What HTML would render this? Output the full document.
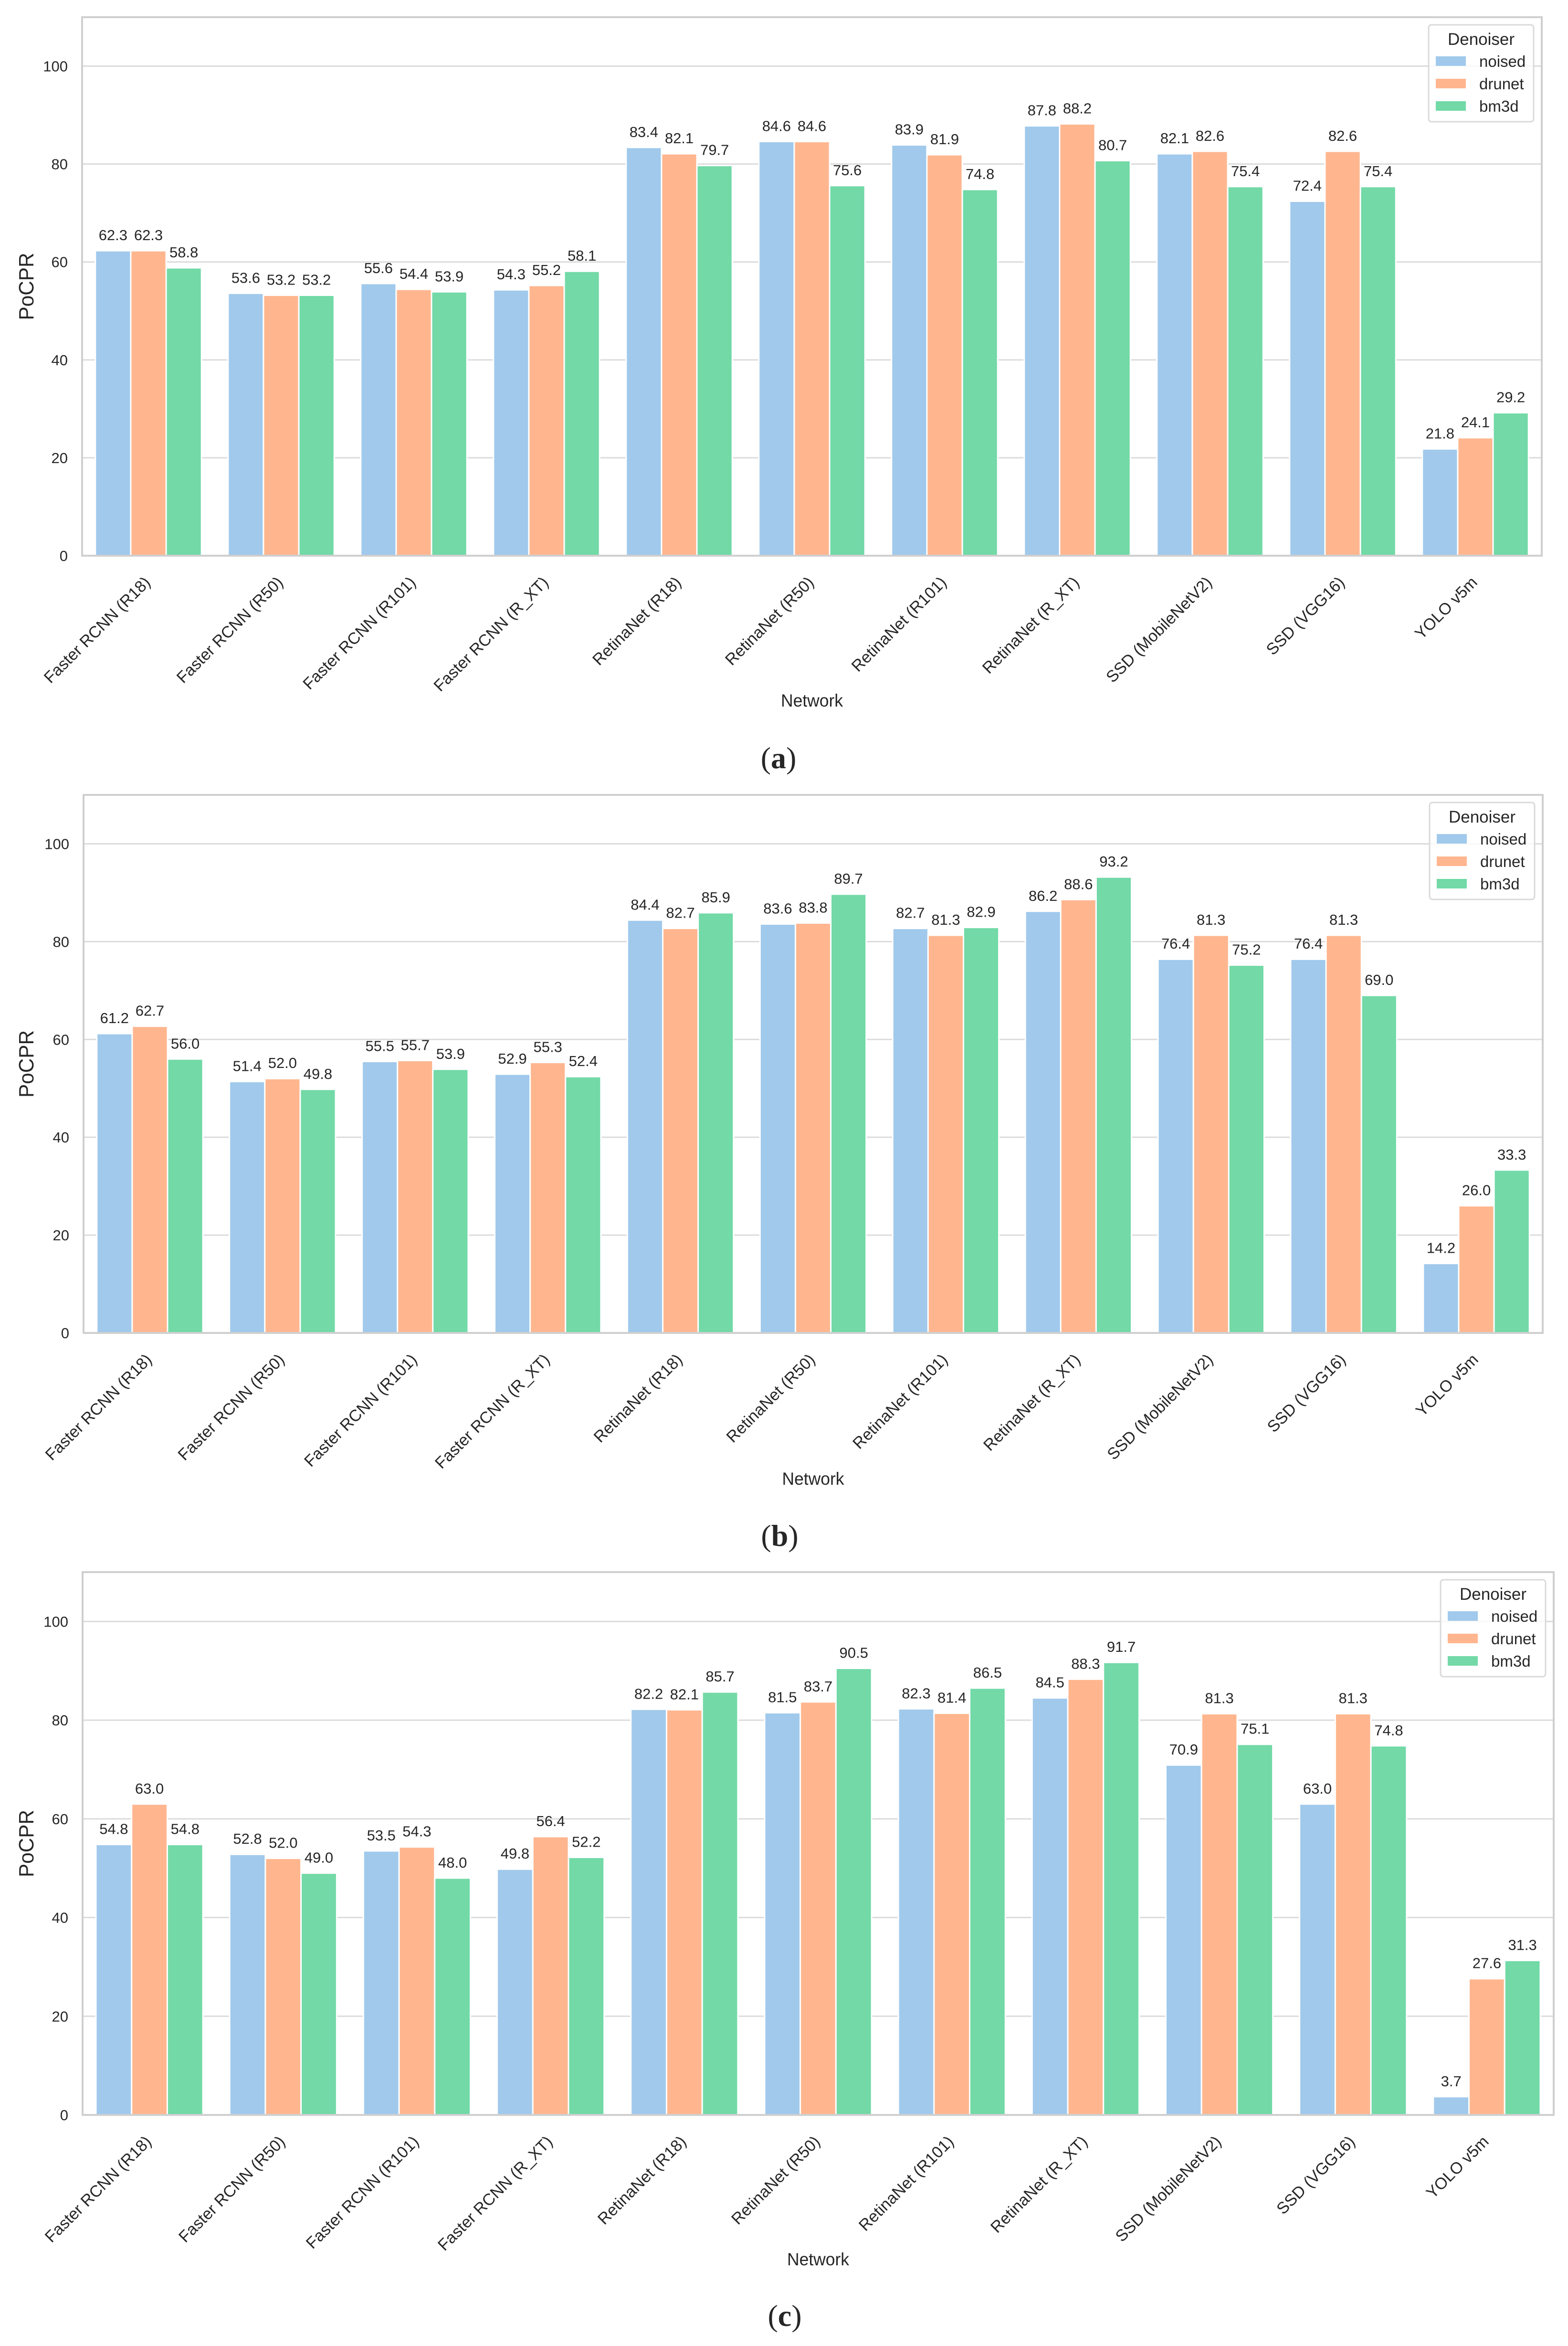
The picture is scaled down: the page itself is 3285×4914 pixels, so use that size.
<!DOCTYPE html>
<html><head><meta charset="utf-8"><style>
html,body{margin:0;padding:0;background:#fff;}
svg{display:block;}
text{font-family:"Liberation Sans",sans-serif;fill:#262626;}
</style></head><body>
<svg id="fig" width="3285" height="4914" viewBox="0 0 3285 4914" xmlns="http://www.w3.org/2000/svg"></svg>
<script>
const categories = ["Faster RCNN (R18)","Faster RCNN (R50)","Faster RCNN (R101)","Faster RCNN (R_XT)","RetinaNet (R18)","RetinaNet (R50)","RetinaNet (R101)","RetinaNet (R_XT)","SSD (MobileNetV2)","SSD (VGG16)","YOLO v5m"];
const seriesNames = ["noised","drunet","bm3d"];
const yTicks = [0,20,40,60,80,100];
const aNoised = [62.3,53.6,55.6,54.3,83.4,84.6,83.9,87.8,82.1,72.4,21.8];
const aDrunet = [62.3,53.2,54.4,55.2,82.1,84.6,81.9,88.2,82.6,82.6,24.1];
const aBm3d   = [58.8,53.2,53.9,58.1,79.7,75.6,74.8,80.7,75.4,75.4,29.2];
const bNoised = [61.2,51.4,55.5,52.9,84.4,83.6,82.7,86.2,76.4,76.4,14.2];
const bDrunet = [62.7,52.0,55.7,55.3,82.7,83.8,81.3,88.6,81.3,81.3,26.0];
const bBm3d   = [56.0,49.8,53.9,52.4,85.9,89.7,82.9,93.2,75.2,69.0,33.3];
const cNoised = [54.8,52.8,53.5,49.8,82.2,81.5,82.3,84.5,70.9,63.0,3.7];
const cDrunet = [63.0,52.0,54.3,56.4,82.1,83.7,81.4,88.3,81.3,81.3,27.6];
const cBm3d   = [54.8,49.0,48.0,52.2,85.7,90.5,86.5,91.7,75.1,74.8,31.3];

const colors = ["#a0c9ec","#ffb68f","#72d9a7"];
const NS = "http://www.w3.org/2000/svg";
const svg = document.getElementById("fig");
function el(tag, attrs, parent, txt){
  const e = document.createElementNS(NS, tag);
  for (const k in attrs) e.setAttribute(k, attrs[k]);
  if (txt !== undefined) e.textContent = txt;
  (parent||svg).appendChild(e);
  return e;
}
const panels = [
  {id:"a", series:[aNoised,aDrunet,aBm3d], L:172, R:3230, T:36, Z:1164, ymax:110, netY:1480, capY:1609},
  {id:"b", series:[bNoised,bDrunet,bBm3d], L:175, R:3232, T:1665, Z:2792, ymax:110, netY:3110, capY:3238},
  {id:"c", series:[cNoised,cDrunet,cBm3d], L:173, R:3255, T:3293, Z:4430, ymax:110, netY:4745, capY:4872}
];
panels.forEach(p=>{
  const g = el("g",{});
  
  
  const y = v => p.Z - v*(p.Z-p.T)/p.ymax;
  const gw = (p.R-p.L)/categories.length;
  const bw = gw*0.8/3;
  const x = i => p.L + gw*(i+0.5);
  yTicks.forEach(t=>{
    if (t>0){
      const gl = el("line",{x1:p.L,x2:p.R,y1:y(t),y2:y(t),stroke:"#dcdcdc","stroke-width":3},g);
      
      
    }
    const tl = el("text",{x:p.L-30,y:y(t)+11,"text-anchor":"end","font-size":31},g,String(t));
    
    
  });
  p.series.forEach((vals,s)=>{
    vals.forEach((v,i)=>{
      const bx = x(i) - 1.5*bw + s*bw;
      const r = el("rect",{x:bx,y:y(v),width:bw,height:p.Z-y(v),fill:colors[s],stroke:"#fff","stroke-width":3},g);
      
      
      const lt = el("text",{x:bx+bw/2,y:y(v)-22,"text-anchor":"middle","font-size":31},g,v.toFixed(1));
      
      
    });
  });
  const fr = el("rect",{x:p.L,y:p.T,width:p.R-p.L,height:p.Z-p.T,fill:"none",stroke:"#cfcfcf","stroke-width":4},g);
  
  
  categories.forEach((c,i)=>{
    const cx = x(i)+6, cy = p.Z+58;
    const t = el("text",{x:cx,y:cy,"text-anchor":"end","font-size":34,transform:`rotate(-45 ${cx} ${cy})`},g,c);
    
    
  });
  const yc = (p.T+p.Z)/2, yx = 70;
  const yt = el("text",{x:yx,y:yc,"text-anchor":"middle","font-size":44,textLength:141,lengthAdjust:"spacingAndGlyphs",transform:`rotate(-90 ${yx} ${yc})`},g,"PoCPR");
  
  
  const xt = el("text",{x:(p.L+p.R)/2,y:p.netY,"text-anchor":"middle","font-size":37,textLength:130,lengthAdjust:"spacingAndGlyphs"},g,"Network");
  
  
  const cap = el("text",{x:(p.L+p.R)/2-70,y:p.capY,"text-anchor":"middle","font-size":64,style:"font-family:'Liberation Serif',serif"},g);
  
  
  el("tspan",{},cap,"(");
  el("tspan",{"font-weight":"bold"},cap,p.id);
  el("tspan",{},cap,")");
  const lg = el("g",{},g);
  
  
  const bxL = p.R-17-220, bxT = p.T+16;
  el("rect",{x:bxL,y:bxT,width:220,height:203,rx:6,fill:"#fff","fill-opacity":0.8,stroke:"#dadada","stroke-width":3},lg);
  const lt = el("text",{x:bxL+110,y:bxT+42,"text-anchor":"middle","font-size":35},lg,"Denoiser");
  
  
  seriesNames.forEach((n,s)=>{
    const ey = bxT+76+s*47;
    const pr = el("rect",{x:bxL+15,y:ey-10,width:63,height:20,fill:colors[s]},lg);
    
    
    const tx = el("text",{x:bxL+106,y:ey+12,"font-size":33},lg,n);
    
    
  });
});
</script>
</body></html>
